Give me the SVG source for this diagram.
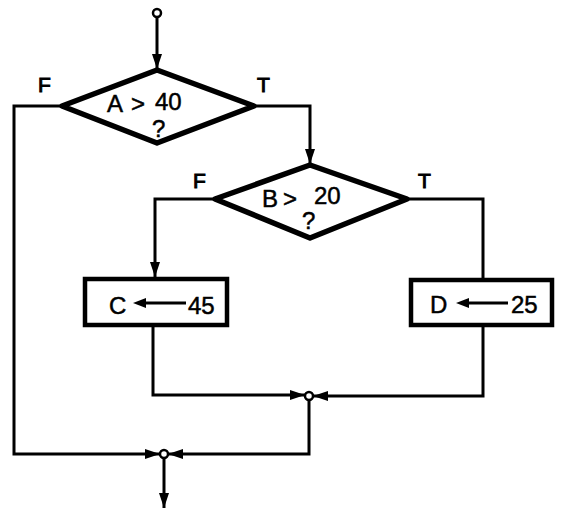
<svg xmlns="http://www.w3.org/2000/svg" width="562" height="520" viewBox="0 0 562 520">
<style>
.c{fill:none;stroke:#000;stroke-width:3;stroke-linejoin:miter}
.d{fill:#fff;stroke:#000;stroke-width:5.5;stroke-linejoin:round}
.b{fill:#fff;stroke:#000;stroke-width:4.5}
.j{fill:#fff;stroke:#000;stroke-width:2.5}
.t{font-family:"Liberation Sans",Arial,sans-serif;font-size:24px;fill:#000;stroke:#000;stroke-width:0.5}
.l{font-family:"Liberation Sans",Arial,sans-serif;font-size:21px;fill:#000;stroke:#000;stroke-width:1}
</style>
<defs>
<marker id="a" markerUnits="userSpaceOnUse" markerWidth="16" markerHeight="10" refX="15" refY="5" orient="auto">
<path d="M0,0 L15,5 L0,10 z" fill="#000"/>
</marker>
</defs>
<rect width="562" height="520" fill="#fff"/>
<g id="connectors">
<line class="c" x1="157" y1="17" x2="157" y2="69" marker-end="url(#a)"/>
<polyline class="c" points="254,106 310,106 310,164" marker-end="url(#a)"/>
<polyline class="c" points="62,106 14,106 14,454 160,454" marker-end="url(#a)"/>
<polyline class="c" points="215,199 155,199 155,277" marker-end="url(#a)"/>
<polyline class="c" points="407,199 483,199 483,280"/>
<polyline class="c" points="153,325 153,395 305,395" marker-end="url(#a)"/>
<polyline class="c" points="483,325 483,396 313,396" marker-end="url(#a)"/>
<polyline class="c" points="309,399 309,454 168,454" marker-end="url(#a)"/>
<line class="c" x1="164" y1="458" x2="164" y2="508" marker-end="url(#a)"/>
</g>
<g id="start"><circle class="j" cx="157" cy="13" r="4"/></g>
<g id="decisionA">
<polygon class="d" points="157,70 254,106 157,143 62,106"/>
<text class="t" x="107" y="112">A</text>
<text class="t" x="131" y="112">&gt;</text>
<text class="t" x="155" y="110">40</text>
<text class="t" x="152" y="137" font-size="18">?</text>
<text class="l" x="38" y="92">F</text>
<text class="l" x="257" y="92">T</text>
</g>
<g id="decisionB">
<polygon class="d" points="310,165 407,199 310,238 215,199"/>
<text class="t" x="262" y="207">B</text>
<text class="t" x="283" y="207">&gt;</text>
<text class="t" x="314" y="204">20</text>
<text class="t" x="302" y="229" font-size="19">?</text>
<text class="l" x="193" y="188">F</text>
<text class="l" x="418" y="188">T</text>
</g>
<g id="boxC">
<rect class="b" x="85" y="279" width="142" height="46"/>
<text class="t" x="109" y="314" font-size="26">C</text>
<line x1="140" y1="303" x2="186" y2="303" stroke="#000" stroke-width="3"/>
<path d="M133,303 L146,298 L146,308 z" fill="#000"/>
<text class="t" x="188" y="314" font-size="26">45</text>
</g>
<g id="boxD">
<rect class="b" x="411" y="280" width="141" height="45"/>
<text class="t" x="430" y="313" font-size="26">D</text>
<line x1="463" y1="303" x2="508" y2="303" stroke="#000" stroke-width="3"/>
<path d="M456,303 L469,298 L469,308 z" fill="#000"/>
<text class="t" x="511" y="313" font-size="26">25</text>
</g>
<g id="merge1"><circle class="j" cx="309" cy="396" r="4"/></g>
<g id="merge2"><circle class="j" cx="164" cy="454" r="4"/></g>
</svg>
